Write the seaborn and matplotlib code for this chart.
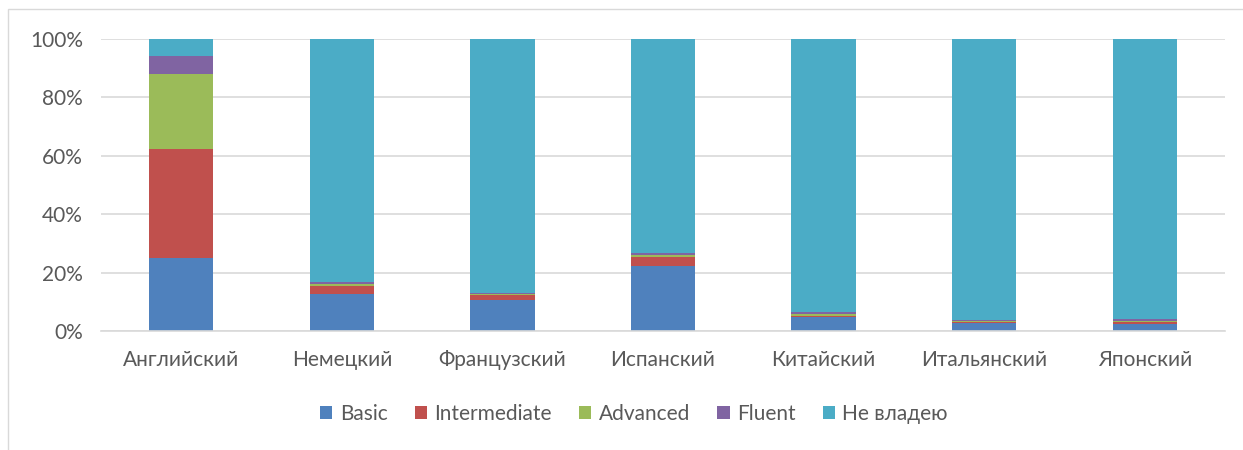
import matplotlib.pyplot as plt
import seaborn as sns
import numpy as np
import pandas as pd
from matplotlib.patches import Patch, Rectangle

# Языки и уровни владения (доли, %)
languages = ['Английский', 'Немецкий', 'Французский', 'Испанский', 'Китайский', 'Итальянский', 'Японский']
levels = ['Basic', 'Intermediate', 'Advanced', 'Fluent', 'Не владею']
basic = [25.1, 12.8, 10.7, 22.4, 4.9, 2.6, 2.5]
intermediate = [37.2, 2.5, 1.5, 3.1, 0.4, 0.5, 0.7]
advanced = [25.6, 0.7, 0.5, 0.4, 0.6, 0.3, 0.2]
fluent = [6.3, 0.7, 0.2, 0.9, 0.7, 0.5, 0.6]
no_skill = [5.8, 83.3, 87.1, 73.2, 93.4, 96.1, 96.0]
colors = ['#4F81BD', '#C0504D', '#9BBB59', '#8064A2', '#4BACC6']

sns.set_theme(style="white")
plt.rcParams['font.family'] = ['Lato', 'DejaVu Sans']
text_color = '#595959'
grid_color = '#D9D9D9'
fs = 15

df = pd.DataFrame({'lang': languages, 'Basic': basic, 'Intermediate': intermediate,
                   'Advanced': advanced, 'Fluent': fluent, 'Не владею': no_skill})

fig = plt.figure(figsize=(12.43, 4.5), dpi=100)
ax = fig.add_axes([0.0813, 0.2644, 0.9042, 0.6489])

# накопленные столбцы
bottom = np.zeros(len(languages))
for lvl, col in zip(levels, colors):
    sns.barplot(data=df, x='lang', y=lvl, bottom=bottom, color=col, width=0.4,
                edgecolor='none', linewidth=0, ax=ax, saturation=1)
    bottom = bottom + df[lvl].values

ax.set_ylim(0, 100)
ax.set_xlim(-0.5, len(languages) - 0.5)
ax.set_yticks(range(0, 101, 20))
ax.set_yticklabels([f'{v}%' for v in range(0, 101, 20)])
ax.set_xlabel('')
ax.set_ylabel('')
ax.set_axisbelow(True)
ax.yaxis.grid(True, color=grid_color, linewidth=1.2)
for s in ['top', 'right', 'left']:
    ax.spines[s].set_visible(False)
ax.spines['bottom'].set_color(grid_color)
ax.spines['bottom'].set_linewidth(1.2)
ax.tick_params(axis='both', length=0, labelsize=fs, colors=text_color)
ax.tick_params(axis='x', pad=14)
ax.tick_params(axis='y', pad=13)

# легенда
handles = [Patch(facecolor=c, edgecolor='none') for c in colors]
fig.legend(handles, levels, loc='center', bbox_to_anchor=(0.51, 0.08), ncol=5,
           frameon=False, fontsize=fs, handlelength=0.6, handleheight=0.6,
           handletextpad=0.35, columnspacing=1.3, labelcolor=text_color)

# рамка диаграммы
fig.patches.append(Rectangle((8 / 1243, -0.1), 1.5, 1.08, transform=fig.transFigure,
                             fill=False, edgecolor=grid_color, linewidth=1))

fig.savefig('out.png', dpi=100)
